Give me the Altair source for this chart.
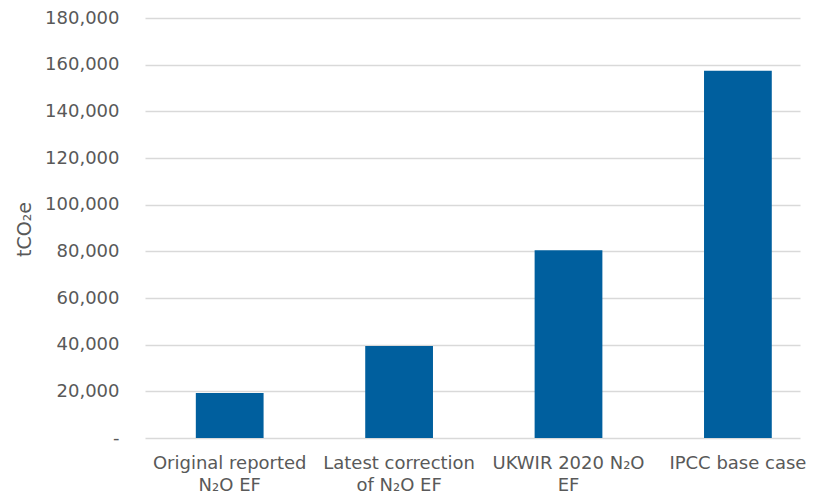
import altair as alt
import pandas as pd

categories = ["Original reported|N₂O EF", "Latest correction|of N₂O EF", "UKWIR 2020 N₂O|EF", "IPCC base case"]
values = [19300, 39400, 80500, 157400]
y_ticks = [0, 20000, 40000, 60000, 80000, 100000, 120000, 140000, 160000, 180000]

df = pd.DataFrame({"category": categories, "value": values})

FONT = "DejaVu Sans"
GREY = "#595959"

chart = alt.Chart(df).mark_bar(color="#005F9E").encode(
    x=alt.X("category:N", sort=categories,
            scale=alt.Scale(paddingInner=0.6, paddingOuter=0.2333, align=0.643),
            axis=alt.Axis(title=None, labelAngle=0, ticks=False, domain=False,
                          labelExpr="split(datum.label, '|')", labelFont=FONT,
                          labelFontSize=18, labelColor=GREY, labelPadding=16,
                          labelLineHeight=22, labelBaseline="top", labelLimit=300)),
    y=alt.Y("value:Q", scale=alt.Scale(domain=[0, 180000], nice=False),
            axis=alt.Axis(title="tCO₂e", values=y_ticks, ticks=False, domain=False,
                          labelExpr="datum.value == 0 ? '-  ' : format(datum.value, ',')",
                          labelFont=FONT, labelFontSize=18, labelColor=GREY, labelPadding=26,
                          grid=True, gridColor="#D9D9D9", gridWidth=1.5,
                          titleFont=FONT, titleFontSize=19, titleColor=GREY,
                          titleFontWeight="normal", titleAngle=-90, titleX=-121, titleY=211,
                          titleAlign="center", titleBaseline="middle")),
).properties(
    width=655, height=420,
    autosize=alt.AutoSizeParams(type="none"),
    padding={"left": 137, "top": 10, "right": 6, "bottom": 57},
).configure_view(stroke=None)

chart.save("out.html", embed_options={"renderer": "svg", "actions": False})
